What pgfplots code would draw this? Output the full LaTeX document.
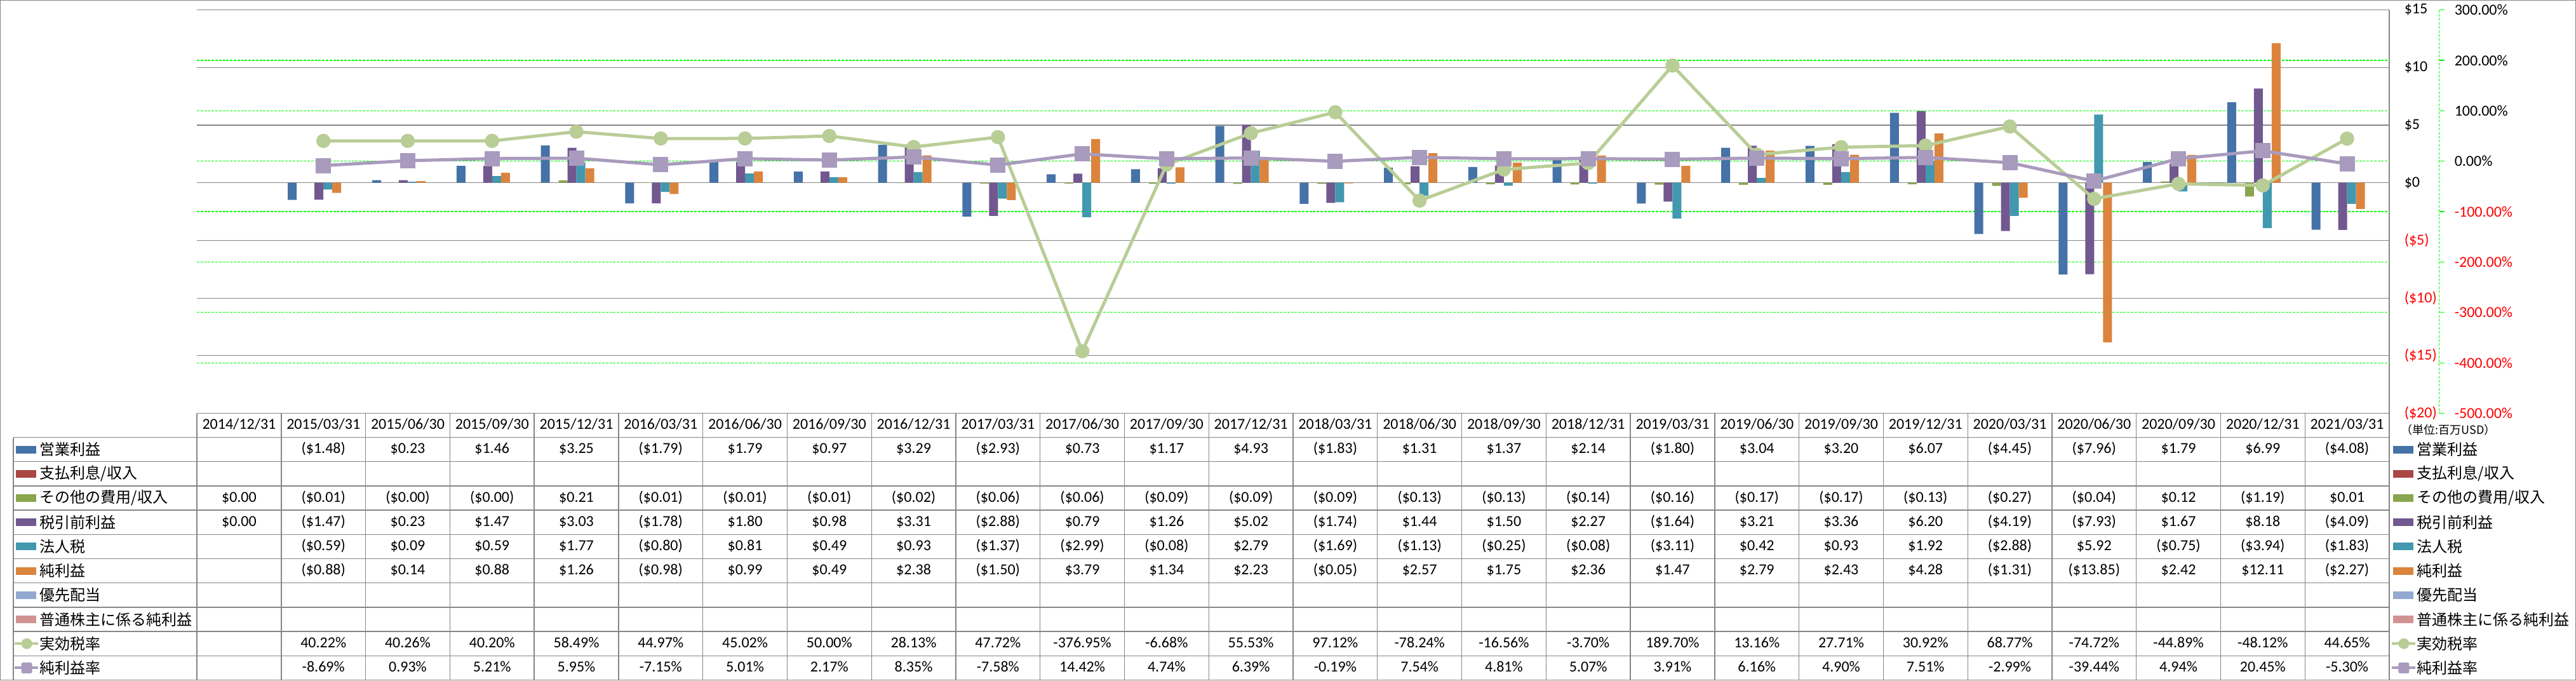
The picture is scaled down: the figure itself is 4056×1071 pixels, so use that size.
\documentclass[border=0pt]{standalone}
\usepackage{fontspec}
\setmainfont{Carlito}
\newfontfamily\jp{Noto Sans CJK JP}
\usepackage{pgfplots}
\pgfplotsset{compat=1.18}

\definecolor{cOp}{HTML}{4572A7}
\definecolor{cInt}{HTML}{AA4643}
\definecolor{cOth}{HTML}{89A54E}
\definecolor{cPre}{HTML}{71588F}
\definecolor{cTax}{HTML}{4198AF}
\definecolor{cNet}{HTML}{DB843D}
\definecolor{cPref}{HTML}{93A9CF}
\definecolor{cCom}{HTML}{D19392}
\definecolor{cEtr}{HTML}{B9CD96}
\definecolor{cNpm}{HTML}{A99BBD}
\definecolor{gridgray}{HTML}{868686}
\definecolor{gridgreen}{HTML}{00FF00}

% table helpers, in pixel units (x=0.25pt, y=-0.25pt)
\newcommand\tabrow[2]{%
  \foreach \v [count=\k from 0] in {#2} {%
    \node[cell] at ({310+(\k+0.5)*132.77},{707.6+38.2*#1}) {\v};}}
\newcommand\barkey[3]{%
  \fill[#2] (25,{707.6+38.2*#1-6}) rectangle (57,{707.6+38.2*#1+6});
  \node[lab] at (62,{707.6+38.2*#1}) {#3};
  \fill[#2] (3768,{707.6+38.2*#1-6}) rectangle (3800,{707.6+38.2*#1+6});
  \node[lab] at (3805,{707.6+38.2*#1}) {#3};}

\begin{document}
\begin{tikzpicture}[
  cell/.style={anchor=center, inner sep=0pt, text height=4.4pt, text depth=1.3pt,
               font=\fontsize{6}{7}\selectfont},
  lab/.style={anchor=west, inner sep=0pt, font={\jp\fontsize{6}{7}\selectfont}}]

% frame and table grid
\begin{scope}[x=0.25pt,y=-0.25pt]
  \draw[gridgray, line width=0.3pt] (0.5,0.5) rectangle (4055.5,1070.5);
  \foreach \r in {0,...,10}
    \draw[gridgray, line width=0.33pt] (21,{688.5+38.2*\r}) -- (3762,{688.5+38.2*\r});
  \draw[gridgray, line width=0.33pt] (21,688.5) -- (21,1070.5);
  \foreach \k in {0,...,25}
    \draw[gridgray, line width=0.33pt] ({310+132.77*\k},650.5) -- ({310+132.77*\k},1070.5);
  \draw[gridgray, line width=0.33pt] (3762,15.5) -- (3762,1070.5);
  % secondary axis line
  \draw[gridgreen, line width=0.3pt, dash pattern=on 1pt off 0.6pt] (3840.7,15.5) -- (3840.7,650.5);
  \foreach \t in {0,...,8}
    \draw[gridgreen, line width=0.3pt] (3840.7,{15.5+79.375*\t}) -- (3849,{15.5+79.375*\t});
\end{scope}

% bars, left axis
\begin{axis}[
    at={(77.5pt,-162.625pt)}, anchor=south west,
    scale only axis, width=863pt, height=158.75pt,
    xmin=-0.5, xmax=25.5, ymin=-20, ymax=15,
    xtick=\empty,
    ytick={-20,-15,...,15},
    yticklabels={\textcolor{red}{(\$20)},\textcolor{red}{(\$15)},\textcolor{red}{(\$10)},\textcolor{red}{(\$5)},\$0,\$5,\$10,\$15},
    yticklabel pos=right,
    yticklabel style={anchor=west, inner sep=0pt, xshift=5.75pt, font=\fontsize{6}{7}\selectfont},
    major tick length=0pt,
    ymajorgrids, major grid style={gridgray, line width=0.3pt},
    extra y ticks={10.625,6.25,1.875,-2.5,-6.875,-11.25,-15.625},
    extra y tick labels={},
    extra y tick style={major grid style={draw=gridgreen, line width=0.3pt, dash pattern=on 1pt off 0.45pt}},
    axis line style={draw=none},
    ybar, bar width=3.5pt,
]
% 営業利益
\addplot[fill=cOp, draw=none, bar shift=-12.25pt] coordinates {
 (1,-1.48) (2,0.23) (3,1.46) (4,3.25) (5,-1.79) (6,1.79) (7,0.97) (8,3.29) (9,-2.93) (10,0.73)
 (11,1.17) (12,4.93) (13,-1.83) (14,1.31) (15,1.37) (16,2.14) (17,-1.80) (18,3.04) (19,3.20)
 (20,6.07) (21,-4.45) (22,-7.96) (23,1.79) (24,6.99) (25,-4.08)};
% その他の費用/収入
\addplot[fill=cOth, draw=none, bar shift=-5.25pt] coordinates {
 (0,0) (1,-0.01) (2,-0.00) (3,-0.00) (4,0.21) (5,-0.01) (6,-0.01) (7,-0.01) (8,-0.02) (9,-0.06)
 (10,-0.06) (11,-0.09) (12,-0.09) (13,-0.09) (14,-0.13) (15,-0.13) (16,-0.14) (17,-0.16)
 (18,-0.17) (19,-0.17) (20,-0.13) (21,-0.27) (22,-0.04) (23,0.12) (24,-1.19) (25,0.01)};
% 税引前利益
\addplot[fill=cPre, draw=none, bar shift=-1.75pt] coordinates {
 (0,0) (1,-1.47) (2,0.23) (3,1.47) (4,3.03) (5,-1.78) (6,1.80) (7,0.98) (8,3.31) (9,-2.88)
 (10,0.79) (11,1.26) (12,5.02) (13,-1.74) (14,1.44) (15,1.50) (16,2.27) (17,-1.64) (18,3.21)
 (19,3.36) (20,6.20) (21,-4.19) (22,-7.93) (23,1.67) (24,8.18) (25,-4.09)};
% 法人税
\addplot[fill=cTax, draw=none, bar shift=1.75pt] coordinates {
 (1,-0.59) (2,0.09) (3,0.59) (4,1.77) (5,-0.80) (6,0.81) (7,0.49) (8,0.93) (9,-1.37) (10,-2.99)
 (11,-0.08) (12,2.79) (13,-1.69) (14,-1.13) (15,-0.25) (16,-0.08) (17,-3.11) (18,0.42) (19,0.93)
 (20,1.92) (21,-2.88) (22,5.92) (23,-0.75) (24,-3.94) (25,-1.83)};
% 純利益
\addplot[fill=cNet, draw=none, bar shift=5.25pt] coordinates {
 (1,-0.88) (2,0.14) (3,0.88) (4,1.26) (5,-0.98) (6,0.99) (7,0.49) (8,2.38) (9,-1.50) (10,3.79)
 (11,1.34) (12,2.23) (13,-0.05) (14,2.57) (15,1.75) (16,2.36) (17,1.47) (18,2.79) (19,2.43)
 (20,4.28) (21,-1.31) (22,-13.85) (23,2.42) (24,12.11) (25,-2.27)};
\end{axis}

% rates, right axis
\begin{axis}[
    at={(77.5pt,-162.625pt)}, anchor=south west,
    scale only axis, width=863pt, height=158.75pt,
    xmin=-0.5, xmax=25.5, ymin=-500, ymax=300,
    xtick=\empty,
    ytick={-500,-400,...,300},
    yticklabels={\textcolor{red}{-500.00\%},\textcolor{red}{-400.00\%},\textcolor{red}{-300.00\%},\textcolor{red}{-200.00\%},\textcolor{red}{-100.00\%},0.00\%,100.00\%,200.00\%,300.00\%},
    yticklabel pos=right,
    yticklabel style={anchor=west, inner sep=0pt, xshift=25.5pt, font=\fontsize{6}{7}\selectfont},
    major tick length=0pt,
    axis line style={draw=none},
    clip=false,
]
% 実効税率
\addplot[color=cEtr, line width=1.25pt, mark=*, mark size=2.6pt,
  mark options={fill=cEtr, draw=cEtr, line width=0.4pt}] coordinates {
 (1,40.22) (2,40.26) (3,40.20) (4,58.49) (5,44.97) (6,45.02) (7,50.00) (8,28.13) (9,47.72)
 (10,-376.95) (11,-6.68) (12,55.53) (13,97.12) (14,-78.24) (15,-16.56) (16,-3.70) (17,189.70)
 (18,13.16) (19,27.71) (20,30.92) (21,68.77) (22,-74.72) (23,-44.89) (24,-48.12) (25,44.65)};
% 純利益率
\addplot[color=cNpm, line width=1.25pt, mark=square*, mark size=2.8pt,
  mark options={fill=cNpm, draw=cNpm, line width=0.4pt, rounded corners=0.8pt}] coordinates {
 (1,-8.69) (2,0.93) (3,5.21) (4,5.95) (5,-7.15) (6,5.01) (7,2.17) (8,8.35) (9,-7.58) (10,14.42)
 (11,4.74) (12,6.39) (13,-0.19) (14,7.54) (15,4.81) (16,5.07) (17,3.91) (18,6.16) (19,4.90)
 (20,7.51) (21,-2.99) (22,-39.44) (23,4.94) (24,20.45) (25,-5.30)};
\end{axis}

% data table text and legend
\begin{scope}[x=0.25pt,y=-0.25pt]
  \foreach \v [count=\k from 0] in {2014/12/31,2015/03/31,2015/06/30,2015/09/30,2015/12/31,
    2016/03/31,2016/06/30,2016/09/30,2016/12/31,2017/03/31,2017/06/30,2017/09/30,2017/12/31,
    2018/03/31,2018/06/30,2018/09/30,2018/12/31,2019/03/31,2019/06/30,2019/09/30,2019/12/31,
    2020/03/31,2020/06/30,2020/09/30,2020/12/31,2021/03/31}
    \node[cell] at ({310+(\k+0.5)*132.77},669.5) {\v};

  \node[anchor=west, inner sep=0pt, font={\jp\fontsize{4.5}{5}\selectfont}] at (3780,677) {（単位:百万USD）};

  \barkey{0}{cOp}{営業利益}
  \barkey{1}{cInt}{支払利息/収入}
  \barkey{2}{cOth}{その他の費用/収入}
  \barkey{3}{cPre}{税引前利益}
  \barkey{4}{cTax}{法人税}
  \barkey{5}{cNet}{純利益}
  \barkey{6}{cPref}{優先配当}
  \barkey{7}{cCom}{普通株主に係る純利益}

  \foreach \xo in {0,3743} {
    \draw[cEtr, line width=1pt] ({23+\xo},1013.2) -- ({60+\xo},1013.2);
    \fill[cEtr] ({42+\xo},1013.2) circle (8.5);
    \draw[cNpm, line width=1pt] ({23+\xo},1051.4) -- ({60+\xo},1051.4);
    \fill[cNpm, rounded corners=0.6pt] ({42+\xo-8.5},1042.9) rectangle ({42+\xo+8.5},1059.9);
  }
  \node[lab] at (62,1013.2) {実効税率};
  \node[lab] at (3805,1013.2) {実効税率};
  \node[lab] at (62,1051.4) {純利益率};
  \node[lab] at (3805,1051.4) {純利益率};

  \tabrow{0}{{},(\$1.48),\$0.23,\$1.46,\$3.25,(\$1.79),\$1.79,\$0.97,\$3.29,(\$2.93),\$0.73,\$1.17,\$4.93,(\$1.83),\$1.31,\$1.37,\$2.14,(\$1.80),\$3.04,\$3.20,\$6.07,(\$4.45),(\$7.96),\$1.79,\$6.99,(\$4.08)}
  \tabrow{2}{\$0.00,(\$0.01),(\$0.00),(\$0.00),\$0.21,(\$0.01),(\$0.01),(\$0.01),(\$0.02),(\$0.06),(\$0.06),(\$0.09),(\$0.09),(\$0.09),(\$0.13),(\$0.13),(\$0.14),(\$0.16),(\$0.17),(\$0.17),(\$0.13),(\$0.27),(\$0.04),\$0.12,(\$1.19),\$0.01}
  \tabrow{3}{\$0.00,(\$1.47),\$0.23,\$1.47,\$3.03,(\$1.78),\$1.80,\$0.98,\$3.31,(\$2.88),\$0.79,\$1.26,\$5.02,(\$1.74),\$1.44,\$1.50,\$2.27,(\$1.64),\$3.21,\$3.36,\$6.20,(\$4.19),(\$7.93),\$1.67,\$8.18,(\$4.09)}
  \tabrow{4}{{},(\$0.59),\$0.09,\$0.59,\$1.77,(\$0.80),\$0.81,\$0.49,\$0.93,(\$1.37),(\$2.99),(\$0.08),\$2.79,(\$1.69),(\$1.13),(\$0.25),(\$0.08),(\$3.11),\$0.42,\$0.93,\$1.92,(\$2.88),\$5.92,(\$0.75),(\$3.94),(\$1.83)}
  \tabrow{5}{{},(\$0.88),\$0.14,\$0.88,\$1.26,(\$0.98),\$0.99,\$0.49,\$2.38,(\$1.50),\$3.79,\$1.34,\$2.23,(\$0.05),\$2.57,\$1.75,\$2.36,\$1.47,\$2.79,\$2.43,\$4.28,(\$1.31),(\$13.85),\$2.42,\$12.11,(\$2.27)}
  \tabrow{8}{{},40.22\%,40.26\%,40.20\%,58.49\%,44.97\%,45.02\%,50.00\%,28.13\%,47.72\%,-376.95\%,-6.68\%,55.53\%,97.12\%,-78.24\%,-16.56\%,-3.70\%,189.70\%,13.16\%,27.71\%,30.92\%,68.77\%,-74.72\%,-44.89\%,-48.12\%,44.65\%}
  \tabrow{9}{{},-8.69\%,0.93\%,5.21\%,5.95\%,-7.15\%,5.01\%,2.17\%,8.35\%,-7.58\%,14.42\%,4.74\%,6.39\%,-0.19\%,7.54\%,4.81\%,5.07\%,3.91\%,6.16\%,4.90\%,7.51\%,-2.99\%,-39.44\%,4.94\%,20.45\%,-5.30\%}
\end{scope}
\end{tikzpicture}
\end{document}
